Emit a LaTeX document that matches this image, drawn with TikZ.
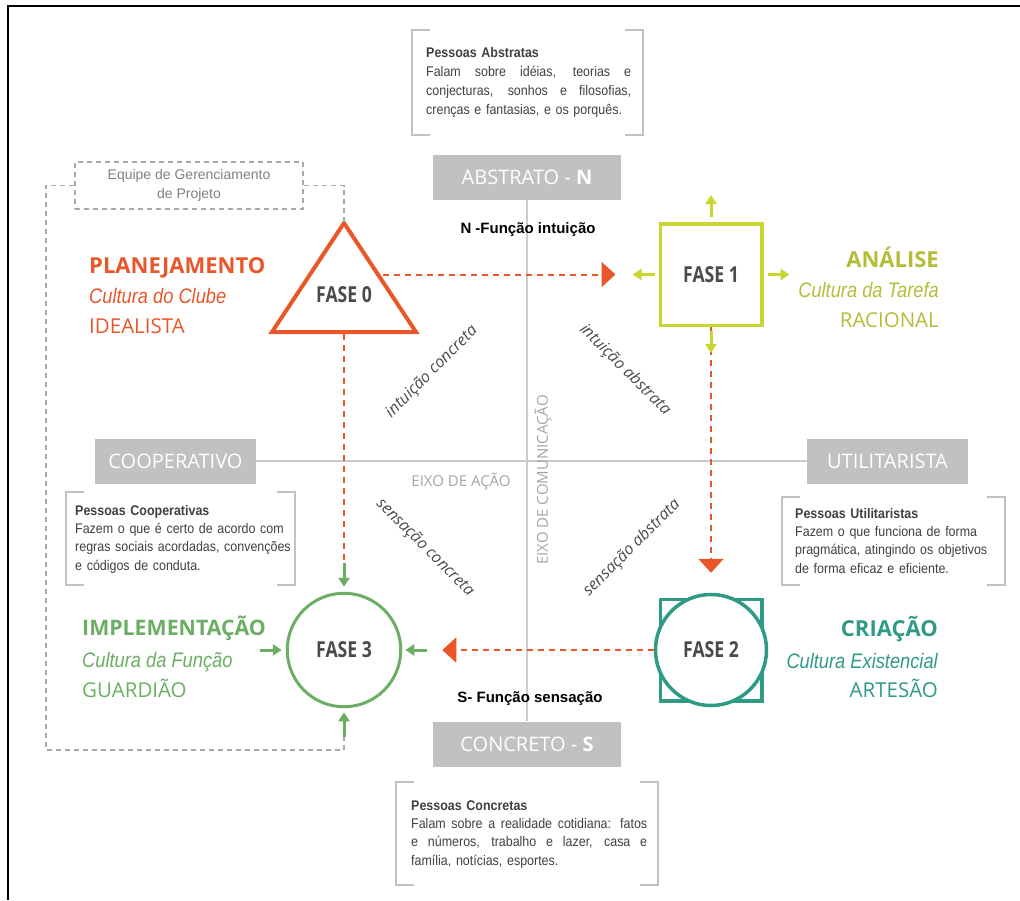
\documentclass[tikz,border=0pt]{standalone}
\usepackage{fontspec}
\setmainfont{Liberation Sans}
\newfontfamily\aberta{Open Sans}
\newfontfamily\fasefont[FakeStretch=0.8]{Open Sans}
\newfontfamily\estreita[FakeStretch=0.87]{Liberation Sans}
\newfontfamily\descfont[FakeStretch=0.89]{Liberation Sans}
\newcommand{\justa}[2]{\makebox[#1][s]{\spaceskip=0pt\xspaceskip=0pt #2}}
\usetikzlibrary{arrows.meta}
\definecolor{laranja}{HTML}{E8562A}
\definecolor{lima}{HTML}{C9D531}
\definecolor{oliva}{HTML}{B4BD38}
\definecolor{verde}{HTML}{6BAE63}
\definecolor{turquesa}{HTML}{2F9A86}
\definecolor{caixa}{HTML}{C1C1C1}
\definecolor{linha}{HTML}{CBCBCB}
\definecolor{tracos}{HTML}{A9A9A9}
\definecolor{rotulo}{HTML}{A5A5A5}
\definecolor{escuro}{HTML}{4A4A4A}
\definecolor{corpo}{HTML}{404040}
\tikzset{
  polo/.style={fill=caixa, text=white, inner sep=0, minimum height=45,
    font=\aberta\fontsize{20}{24}\selectfont},
  eixo/.style={draw=linha, line width=1.5},
  colchete/.style={draw=caixa, line width=1.6},
  fase/.style={text=escuro, font=\fasefont\bfseries\fontsize{22}{24}\selectfont},
  ligacao/.style={draw=laranja, line width=2, dash pattern=on 6pt off 5pt},
  pontalaranja/.style={-{Triangle[width=25pt,length=14pt]}},
  setinha/.style={-{Triangle[width=11pt,length=9pt]}, line width=3},
  equipetr/.style={draw=tracos, line width=1.4, dash pattern=on 5pt off 4pt},
  descricao/.style={text=corpo, align=left, anchor=base west, inner sep=0,
    font=\descfont\fontsize{14}{18.4}\selectfont},
  titulo/.style={font=\aberta\bfseries\fontsize{22}{24}\selectfont, inner sep=0},
  cultura/.style={font=\estreita\itshape\fontsize{21}{24}\selectfont, inner sep=0},
  tipo/.style={font=\aberta\fontsize{20.5}{24}\selectfont, inner sep=0},
  diagonal/.style={text=escuro, font=\aberta\itshape\fontsize{16}{18}\selectfont},
  funcao/.style={font=\bfseries\fontsize{15}{18}\selectfont},
}

\begin{document}
\begin{tikzpicture}[x=1pt,y=-1pt]
  \useasboundingbox (0,0) rectangle (1020,900);
  \draw[line width=1.2] (8,900) -- (8,6) -- (1020,6);

  % Polos e eixos.
  \node[polo, minimum width=188] (abstrato) at (527,177.5) {ABSTRATO - \textbf{N}};
  \node[polo, minimum width=188] (concreto) at (527,744) {CONCRETO - \textbf{S}};
  \node[polo, minimum width=161] (cooperativo) at (175.5,461) {COOPERATIVO};
  \node[polo, minimum width=161] (utilitarista) at (887.5,461) {UTILITARISTA};
  \draw[eixo] (abstrato) -- (concreto);
  \draw[eixo] (cooperativo) -- (utilitarista);
  \node[text=rotulo, font=\aberta\fontsize{15}{18}\selectfont] (acao) at (461,481.5) {EIXO DE AÇÃO};
  \node[text=rotulo, rotate=90, font=\aberta\fontsize{15}{18}\selectfont] (comunicacao) at (543,480) {EIXO DE COMUNICAÇÃO};
  \node[funcao] (intuicao) at (528,230) {N -Função intuição};
  \node[funcao] (sensacao) at (530,699) {S- Função sensação};

  % Caixas de descrição entre colchetes.
  \draw[colchete] (430,30) -| (412,135) -- (430,135);
  \draw[colchete] (625,30) -| (643,135) -- (625,135);
  \node[descricao, text width=205, font=\descfont\fontsize{14}{19}\selectfont] (abstratas) at (426,57) {\textbf{Pessoas Abstratas}\\
    \justa{205pt}{Falam sobre idéias, teorias e}\\
    \justa{205pt}{conjecturas, sonhos e filosofias,}\\
    crenças e fantasias, e os porquês.};
  \draw[colchete] (84,492) -| (66,585) -- (84,585);
  \draw[colchete] (277,492) -| (295,585) -- (277,585);
  \node[descricao, text width=240] (cooperativas) at (75,515) {\textbf{Pessoas Cooperativas}\\
    Fazem o que é certo de acordo com\\
    regras sociais acordadas, convenções\\
    e códigos de conduta.};
  \draw[colchete] (800,497) -| (782,585) -- (800,585);
  \draw[colchete] (987,497) -| (1005,585) -- (987,585);
  \node[descricao, text width=240] (utilitaristas) at (795,518) {\textbf{Pessoas Utilitaristas}\\
    Fazem o que funciona de forma\\
    pragmática, atingindo os objetivos\\
    de forma eficaz e eficiente.};
  \draw[colchete] (414,782) -| (396,885) -- (414,885);
  \draw[colchete] (640,782) -| (658,885) -- (640,885);
  \node[descricao, text width=236] (concretas) at (411,810) {\textbf{Pessoas Concretas}\\
    \justa{236pt}{Falam sobre a realidade cotidiana: fatos}\\
    \justa{236pt}{e números, trabalho e lazer, casa e}\\
    família, notícias, esportes.};

  % As quatro fases.
  \coordinate (v0a) at (344,223);
  \coordinate (v0b) at (272,332);
  \coordinate (v0c) at (416,332);
  \draw[draw=laranja, line width=4] (v0a) -- (v0b) -- (v0c) -- cycle;
  \node[fase] (fase0) at (344,295) {FASE 0};
  \node[draw=lima, line width=3.5, minimum size=101.5, fase] (fase1) at (711,274.5) {FASE 1};
  \node[draw=turquesa, line width=3.5, minimum size=101.5] (canto2) at (711,650) {};
  \node[circle, draw=turquesa, fill=white, line width=3.5, minimum size=111, fase] (fase2) at (711,650) {FASE 2};
  \node[circle, draw=verde, line width=3, minimum size=113.5, fase] (fase3) at (344,650) {FASE 3};

  % Nomes das fases.
  \node[titulo, text=laranja, anchor=base west] (planejamento) at (89,273) {PLANEJAMENTO};
  \node[cultura, text=laranja, anchor=base west] (clube) at (89,303) {Cultura do Clube};
  \node[tipo, text=laranja, anchor=base west] (idealista) at (89,333) {IDEALISTA};
  \node[titulo, text=oliva, anchor=base east] (analise) at (939,267) {ANÁLISE};
  \node[cultura, text=oliva, anchor=base east] (tarefa) at (939,297) {Cultura da Tarefa};
  \node[tipo, text=oliva, anchor=base east] (racional) at (939,327) {RACIONAL};
  \node[titulo, text=turquesa, anchor=base east] (criacao) at (938,636) {CRIAÇÃO};
  \node[cultura, text=turquesa, anchor=base east] (existencial) at (938,668) {Cultura Existencial};
  \node[tipo, text=turquesa, anchor=base east] (artesao) at (938,697) {ARTESÃO};
  \node[titulo, text=verde, anchor=base west, font=\aberta\bfseries\fontsize{21.3}{24}\selectfont] (implementacao) at (82,635) {IMPLEMENTAÇÃO};
  \node[cultura, text=verde, anchor=base west] (funcao3) at (82,667) {Cultura da Função};
  \node[tipo, text=verde, anchor=base west] (guardiao) at (82,697) {GUARDIÃO};

  % Funções nas diagonais.
  \node[diagonal, rotate=45] (ic) at (432,372) {intuição concreta};
  \node[diagonal, rotate=-45] (ia) at (625,370) {intuição abstrata};
  \node[diagonal, rotate=-45] (sc) at (425,548) {sensação concreta};
  \node[diagonal, rotate=45] (sa) at (632,548) {sensação abstrata};

  % Ligações tracejadas entre as fases.
  \coordinate (saida0) at (383,274.5);
  \coordinate (base0) at (344,334);
  \draw[ligacao, pontalaranja, shorten >=43pt] (saida0) -- (fase1);
  \draw[ligacao, pontalaranja, shorten >=20pt] (fase1) -- (fase2);
  \draw[ligacao, pontalaranja, shorten >=40pt] (fase2) -- (fase3);
  \draw[ligacao, shorten >=29pt] (base0) -- (fase3);

  % Setas da fase 1 (para fora) e da fase 3 (para dentro).
  \draw[setinha, draw=lima] ([yshift=5pt]fase1.north) -- ([yshift=27pt]fase1.north);
  \draw[setinha, draw=lima] ([xshift=-4pt]fase1.west) -- ([xshift=-26pt]fase1.west);
  \draw[setinha, draw=lima] ([xshift=4pt]fase1.east) -- ([xshift=26pt]fase1.east);
  \draw[setinha, draw=lima] ([yshift=-4pt]fase1.south) -- ([yshift=-26pt]fase1.south);
  \draw[setinha, draw=verde] ([yshift=29pt]fase3.north) -- ([yshift=5pt]fase3.north);
  \draw[setinha, draw=verde] ([xshift=-26pt]fase3.west) -- ([xshift=-4pt]fase3.west);
  \draw[setinha, draw=verde] ([xshift=25pt]fase3.east) -- ([xshift=3pt]fase3.east);
  \draw[setinha, draw=verde] ([yshift=-29pt]fase3.south) -- ([yshift=-4pt]fase3.south);

  % Equipe de gerenciamento, contorno tracejado.
  \node[equipetr, minimum width=228, minimum height=47, text=gray, align=center,
    font=\fontsize{14}{19}\selectfont] (equipe) at (189,185.5) {Equipe de Gerenciamento\\de Projeto};
  \draw[equipetr] (equipe.west) -| (46,750) -| ([yshift=-29pt]fase3.south);
  \draw[equipetr] (equipe.east) -| (v0a);
\end{tikzpicture}
\end{document}
